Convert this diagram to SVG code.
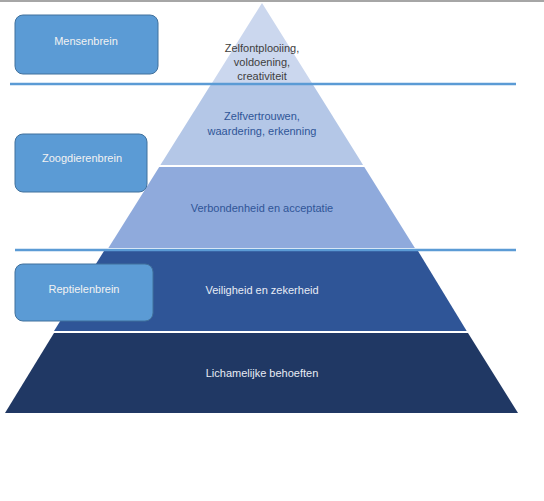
<svg xmlns="http://www.w3.org/2000/svg" width="544" height="501" viewBox="0 0 544 501">
<style>
.lbl{font-family:"Liberation Sans",Arial,sans-serif;font-size:11px;text-anchor:middle}
.box{fill:#5b9bd5;stroke:#41719c;stroke-width:1}
.btxt{font-family:"Liberation Sans",Arial,sans-serif;font-size:11px;text-anchor:middle;fill:#f2f2f2}
.sep{stroke:#5b9bd5;stroke-width:2.5;fill:none}
</style>
<rect width="544" height="501" fill="#ffffff"/>
<line x1="0" y1="1" x2="544" y2="1" stroke="#a6a6a6" stroke-width="2"/>
<g id="pyramid">
  <g id="layer1">
    <polygon points="262,3 212,83 312,83" fill="#cbd7ee"/>
    <text class="lbl" fill="#404040" x="262" y="52">Zelfontplooiing,</text>
    <text class="lbl" fill="#404040" x="262" y="66">voldoening,</text>
    <text class="lbl" fill="#404040" x="262" y="80">creativiteit</text>
  </g>
  <g id="layer2">
    <polygon points="210.6,85 313.2,85 363.1,165 160.4,165" fill="#b4c7e7"/>
    <text class="lbl" fill="#2f5597" x="262" y="120">Zelfvertrouwen,</text>
    <text class="lbl" fill="#2f5597" x="262" y="135">waardering, erkenning</text>
  </g>
  <g id="layer3">
    <polygon points="159.2,167 364.3,167 414.9,248 108.4,248" fill="#8faadc"/>
    <text class="lbl" fill="#2f5597" x="262" y="212">Verbondenheid en acceptatie</text>
  </g>
  <g id="layer4">
    <polygon points="104,251 418,251 466.7,331 54,331" fill="#2f5597"/>
    <text class="lbl" fill="#e8ecf5" x="262" y="294">Veiligheid en zekerheid</text>
  </g>
  <g id="layer5">
    <polygon points="54,333 468,333 518,413 5,413" fill="#203864"/>
    <text class="lbl" fill="#e8ecf5" x="262" y="377">Lichamelijke behoeften</text>
  </g>
</g>
<g id="connectors">
  <line class="sep" x1="10" y1="84" x2="516" y2="84"/>
  <line class="sep" x1="15" y1="250" x2="516" y2="250"/>
</g>
<g id="mensenbrein">
  <rect class="box" x="15" y="15" width="143" height="59" rx="8"/>
  <text class="btxt" x="86" y="45">Mensenbrein</text>
</g>
<g id="zoogdierenbrein">
  <rect class="box" x="15" y="134" width="132" height="58" rx="8"/>
  <text class="btxt" x="82" y="162">Zoogdierenbrein</text>
</g>
<g id="reptielenbrein">
  <rect class="box" x="15" y="264" width="138" height="57" rx="8"/>
  <text class="btxt" x="84" y="293">Reptielenbrein</text>
</g>
</svg>
